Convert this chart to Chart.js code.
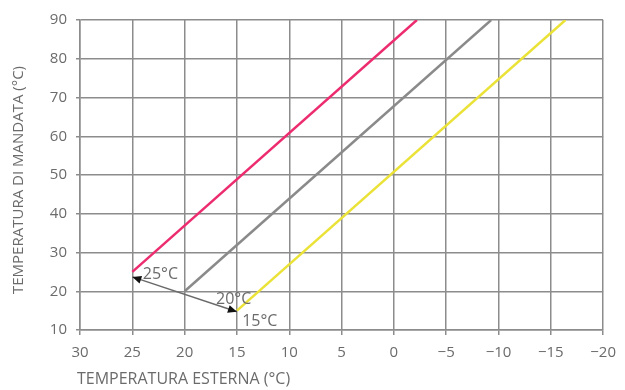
<!DOCTYPE html>
<html>
<head>
<meta charset="utf-8">
<script src="https://cdn.jsdelivr.net/npm/chart.js"></script>
<style>
  html, body { margin: 0; padding: 0; background: #fff; }
  #wrap { width: 625px; height: 390px; }
</style>
</head>
<body>
<div id="wrap"><canvas id="chart"></canvas></div>
<script>
// Curves: outdoor temperature (x) vs supply temperature (y)
const curveLabels = ['25°C', '20°C', '15°C'];
const curveColors = ['#ec2c6f', '#8a8a8a', '#ebe238'];
const curveX = [[25, -2.2], [20, -9.3], [15, -16.4]];
const curveY = [[25, 90], [20, 90], [15, 90]];

// double arrow between the curve starts
const arrowX = [25, 15];
const arrowY = [23.7, 14.7];

// label positions (data coords)
const labelX = [24, 17, 14.5];
const labelY = [24.4, 17.8, 12.2];

const xTitle = 'TEMPERATURA ESTERNA (°C)';
const yTitle = 'TEMPERATURA DI MANDATA (°C)';

const xMin = -20, xMax = 30;
const yMin = 10, yMax = 90;

const textColor = '#6b6b6b';
const gridColor = '#8c8c8c';
const font = 'Open Sans';

const datasets = curveLabels.map((lab, i) => ({
  label: lab,
  data: curveX[i].map((x, j) => ({ x: x, y: curveY[i][j] })),
  borderColor: curveColors[i],
  borderWidth: 2.5,
  pointRadius: 0,
  fill: false
}));

const annotate = {
  id: 'annotate',
  afterDatasetsDraw(chart) {
    const { ctx, chartArea, scales: { x, y } } = chart;
    const x1 = x.getPixelForValue(arrowX[0]), y1 = y.getPixelForValue(arrowY[0]);
    const x2 = x.getPixelForValue(arrowX[1]), y2 = y.getPixelForValue(arrowY[1]);
    ctx.save();
    ctx.strokeStyle = '#6a6a6a';
    ctx.lineWidth = 1.5;
    ctx.beginPath();
    ctx.moveTo(x1, y1);
    ctx.lineTo(x2, y2);
    ctx.stroke();
    // arrow heads
    const head = (px, py, ang) => {
      const L = 9, W = 4;
      ctx.fillStyle = '#111';
      ctx.beginPath();
      ctx.moveTo(px, py);
      ctx.lineTo(px - L * Math.cos(ang) + W * Math.sin(ang), py - L * Math.sin(ang) - W * Math.cos(ang));
      ctx.lineTo(px - L * Math.cos(ang) - W * Math.sin(ang), py - L * Math.sin(ang) + W * Math.cos(ang));
      ctx.closePath();
      ctx.fill();
    };
    const a = Math.atan2(y2 - y1, x2 - x1);
    head(x2, y2, a);
    head(x1, y1, a + Math.PI);

    ctx.fillStyle = textColor;
    ctx.font = '16px "' + font + '"';
    ctx.textAlign = 'left';
    ctx.textBaseline = 'middle';
    curveLabels.forEach((lab, i) => {
      ctx.fillText(lab, x.getPixelForValue(labelX[i]), y.getPixelForValue(labelY[i]));
    });

    // axis titles
    ctx.fillText(xTitle, chartArea.left - 3, 379);
    ctx.font = '15px "' + font + '"';
    ctx.translate(19, 180);
    ctx.rotate(-Math.PI / 2);
    ctx.textAlign = 'center';
    ctx.fillText(yTitle, 0, 0);
    ctx.restore();
  }
};

new Chart(document.getElementById('chart'), {
  type: 'line',
  data: { datasets: datasets },
  plugins: [annotate],
  options: {
    responsive: true,
    maintainAspectRatio: false,
    animation: false,
    layout: { padding: { top: 20, right: 18, left: 0, bottom: 0 } },
    plugins: { legend: { display: false }, tooltip: { enabled: false } },
    scales: {
      x: {
        type: 'linear',
        reverse: true,
        min: xMin, max: xMax,
        afterFit: s => { s.height = 60; },
        ticks: { stepSize: 5, color: textColor, font: { family: font, size: 15 }, padding: 9, maxRotation: 0,
          callback: v => (v < 0 ? '\u2212' + Math.abs(v) : v) },
        grid: { color: gridColor, lineWidth: 1.5, tickLength: 5, tickColor: gridColor },
        border: { color: gridColor, width: 1.5 }
      },
      y: {
        type: 'linear',
        min: yMin, max: yMax,
        afterFit: s => { s.width = 80; },
        ticks: { stepSize: 10, color: textColor, font: { family: font, size: 15 }, padding: 9 },
        grid: { color: gridColor, lineWidth: 1.5, tickLength: 4, tickColor: gridColor },
        border: { color: gridColor, width: 1.5 }
      }
    }
  }
});
</script>
</body>
</html>
